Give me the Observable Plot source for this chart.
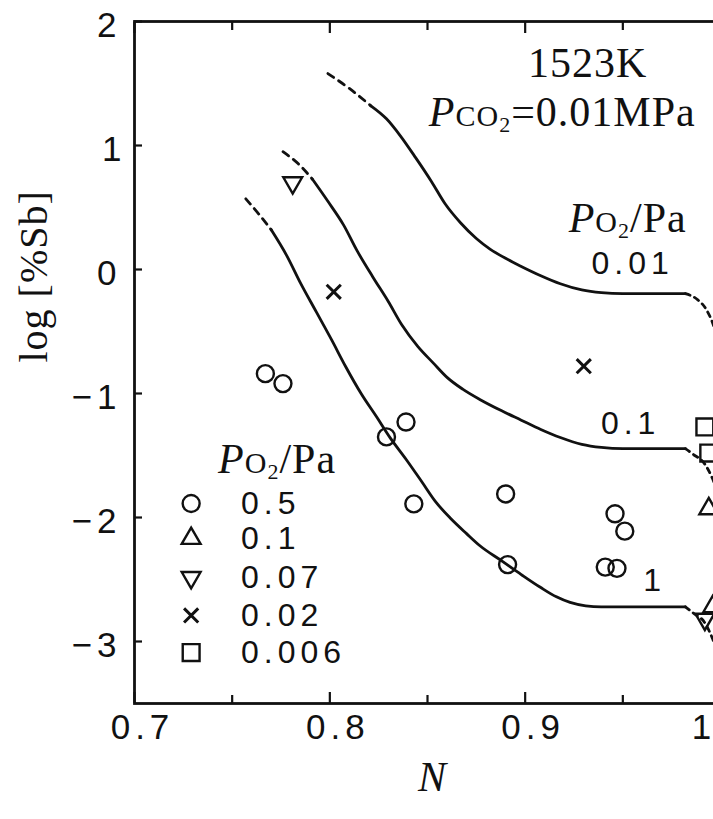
<!DOCTYPE html>
<html><head><meta charset="utf-8">
<script src="https://cdn.jsdelivr.net/npm/d3@7"></script>
<script src="https://cdn.jsdelivr.net/npm/@observablehq/plot@0.6"></script>
<style>
body{margin:0;background:#fff;}
#chart svg text{letter-spacing:5px;}
#chart svg g[font-family*="Serif"] text{letter-spacing:1px;}
#chart svg text.nospace{letter-spacing:0;}
</style>
</head><body><div id="chart"></div>
<script>
// ---- axis ticks ----
const xTicks = [0.7, 0.8, 0.9];
const xEndTick = [1.0];
const xMinorTicks = [0.75, 0.85, 0.95];
const yTicks = [-3, -2, -1, 0, 1, 2];

// ---- model curves: [N, log %Sb] ----
const c001DashL = [[0.799,1.58],[0.810,1.46],[0.821,1.32]];
const c001Solid = [[0.821,1.32],[0.829,1.215],[0.836,1.08],[0.844,0.90],[0.852,0.71],[0.859,0.53],[0.867,0.375],[0.875,0.25],[0.882,0.165],[0.890,0.090],[0.898,0.025],[0.908,-0.050],[0.918,-0.115],[0.929,-0.165],[0.939,-0.187],[0.950,-0.195],[0.982,-0.195]];
const c001DashR = [[0.982,-0.195],[0.988,-0.24],[0.993,-0.33],[0.997,-0.48],[1.000,-0.68]];

const c01DashL = [[0.776,0.95],[0.784,0.85],[0.791,0.73]];
const c01Solid = [[0.791,0.73],[0.799,0.55],[0.807,0.36],[0.814,0.15],[0.822,-0.06],[0.830,-0.26],[0.837,-0.45],[0.845,-0.62],[0.853,-0.755],[0.860,-0.87],[0.868,-0.965],[0.877,-1.05],[0.888,-1.14],[0.898,-1.215],[0.908,-1.29],[0.918,-1.355],[0.929,-1.41],[0.939,-1.435],[0.950,-1.445],[0.982,-1.445]];
const c01DashR = [[0.982,-1.445],[0.986,-1.49],[0.992,-1.57],[0.996,-1.69],[1.000,-1.87]];

const c1DashL = [[0.757,0.57],[0.764,0.44],[0.770,0.32]];
const c1Solid = [[0.770,0.32],[0.778,0.11],[0.785,-0.11],[0.793,-0.34],[0.801,-0.57],[0.808,-0.78],[0.816,-1.00],[0.824,-1.19],[0.831,-1.36],[0.839,-1.53],[0.847,-1.71],[0.854,-1.87],[0.862,-2.01],[0.870,-2.13],[0.877,-2.23],[0.888,-2.35],[0.898,-2.46],[0.908,-2.565],[0.916,-2.64],[0.923,-2.685],[0.931,-2.712],[0.939,-2.72],[0.982,-2.72]];
const c1DashR = [[0.982,-2.72],[0.986,-2.77],[0.992,-2.85],[0.996,-2.98],[1.000,-3.16]];

const curveLabels = ["0.01", "0.1", "1"];
const curveLabelN = [0.955, 0.954, 0.965];
const curveLabelV = [0.05, -1.24, -2.51];

// ---- measured points (by PO2/Pa) ----
const legendLabels = ["0.5", "0.1", "0.07", "0.02", "0.006"];
const circleN = [0.767,0.776,0.829,0.839,0.843,0.890,0.891,0.946,0.951,0.941,0.947];
const circleV = [-0.84,-0.92,-1.35,-1.23,-1.89,-1.81,-2.38,-1.97,-2.11,-2.40,-2.41];
const triUpN = [0.994, 0.996];
const triUpV = [-1.93, -2.72];
const triDownN = [0.781, 0.992];
const triDownV = [0.70, -2.82];
const crossN = [0.802, 0.930];
const crossV = [-0.18, -0.78];
const squareN = [0.992, 0.994];
const squareV = [-1.27, -1.48];

// ---- layout (legend placement in data units) ----
const legendSymN = 0.729, legendTextN = 0.7545;
const legendRowV = [-1.887, -2.169, -2.484, -2.790, -3.089];
const legendTitle = {N: 0.773, v: -1.53};
const noteTemp = {N: 0.932, v: 1.66, text: "1523K"};
const notePco2 = {N: 0.919, v: 1.266, text: "PCO2=0.01MPa"};
const notePo2 = {N: 0.9525, v: 0.41, text: "PO2/Pa"};

const SERIF = "Liberation Serif";
const SANS = "Liberation Sans";
const INK = "#111";

function rows(arr, curve, seg) { return arr.map(([N, v]) => ({N, v, z: curve + seg})); }
const solidRows = [...rows(c001Solid,"0.01","s"), ...rows(c01Solid,"0.1","s"), ...rows(c1Solid,"1","s")];
const dashLRows = [...rows(c001DashL,"0.01","l"), ...rows(c01DashL,"0.1","l"), ...rows(c1DashL,"1","l")];
const dashRRows = [...rows(c001DashR,"0.01","r"), ...rows(c01DashR,"0.1","r"), ...rows(c1DashR,"1","r")];

const series = [
  {N: circleN, V: circleV, symbol: "circle", rotate: 0, r: 8.5},
  {N: triUpN, V: triUpV, symbol: "triangle", rotate: 0, r: 7},
  {N: triDownN, V: triDownV, symbol: "triangle", rotate: 180, r: 7},
  {N: crossN, V: crossV, symbol: "times", rotate: 0, r: 6.5},
  {N: squareN, V: squareV, symbol: "square", rotate: 0, r: 9.5}
];

const tickOnly = {strokeWidth: 2.2, tickFormat: () => "", label: null};
const marks = [
  Plot.frame({stroke: INK, strokeWidth: 2.8}),
  Plot.axisX({anchor: "bottom", ticks: [...xTicks, ...xEndTick], tickSize: -11, ...tickOnly}),
  Plot.axisX({anchor: "bottom", ticks: xMinorTicks, tickSize: -8, ...tickOnly}),
  Plot.axisX({anchor: "top", ticks: [...xTicks, ...xEndTick], tickSize: -11, ...tickOnly}),
  Plot.axisX({anchor: "top", ticks: xMinorTicks, tickSize: -8, ...tickOnly}),
  Plot.axisX({anchor: "bottom", ticks: xTicks, tickSize: 0, tickPadding: 11, dx: 8, fontSize: 35, fill: INK,
    tickFormat: d => d3.format(".1f")(d), label: null}),
  Plot.axisX({anchor: "bottom", ticks: xEndTick, tickSize: 0, tickPadding: 11, dx: -19, fontSize: 35, fill: INK,
    tickFormat: d => String(d), label: null}),
  Plot.axisY({anchor: "left", ticks: yTicks, tickSize: -8, ...tickOnly}),
  Plot.axisY({anchor: "left", ticks: yTicks, tickSize: 0, tickPadding: 13, dy: 4, fontSize: 35, fill: INK,
    tickFormat: d => d < 0 ? "\u2212" + Math.abs(d) : String(d), label: null}),
  Plot.line(solidRows, {x: "N", y: "v", z: "z", curve: "monotone-x", stroke: INK, strokeWidth: 2.8}),
  Plot.line(dashLRows, {x: "N", y: "v", z: "z", curve: "monotone-x", stroke: INK, strokeWidth: 2.8, strokeDasharray: "7,6"}),
  Plot.line(dashRRows, {x: "N", y: "v", z: "z", curve: "monotone-x", stroke: INK, strokeWidth: 2.8, strokeDasharray: "5,5"}),
  Plot.text(curveLabels, {x: (d, i) => curveLabelN[i], y: (d, i) => curveLabelV[i], text: d => d, fontFamily: SANS, fontSize: 32, fill: INK}),
  Plot.text([noteTemp, notePco2, notePo2], {x: "N", y: "v", text: "text", fontFamily: SERIF, fontSize: 42, fill: INK}),
  Plot.text([legendTitle], {x: "N", y: "v", text: () => "PO2/Pa", fontFamily: SERIF, fontSize: 42, fill: INK}),
  Plot.text(legendLabels, {x: () => legendTextN, y: (d, i) => legendRowV[i], text: d => d, textAnchor: "start", fontFamily: SANS, fontSize: 32, fill: INK}),
  Plot.text(["log [%Sb]"], {frameAnchor: "left", dx: -100, rotate: -90, text: d => d, fontFamily: SERIF, fontSize: 40, fill: INK}),
  Plot.text(["N"], {frameAnchor: "bottom", dx: 5, dy: 87, text: d => d, fontFamily: SERIF, fontStyle: "italic", fontSize: 42, fill: INK})
];

series.forEach((s, k) => {
  const pts = s.N.map((N, i) => ({N, v: s.V[i]}));
  const sw = s.symbol === "times" ? 3 : 2.4;
  marks.push(Plot.dot(pts, {x: "N", y: "v", symbol: s.symbol, rotate: s.rotate, r: s.r, stroke: INK, fill: "none", strokeWidth: sw}));
  marks.push(Plot.dot([legendLabels[k]], {x: () => legendSymN, y: () => legendRowV[k], symbol: s.symbol, rotate: s.rotate, r: s.r, stroke: INK, fill: "none", strokeWidth: sw}));
});

const chart = Plot.plot({
  width: 713,
  height: 819,
  marginLeft: 134,
  marginRight: -7,
  marginTop: 21,
  marginBottom: 116,
  x: {domain: [0.7, 1.0]},
  y: {domain: [-3.5, 2]},
  style: {fontFamily: SANS, background: "white", color: INK},
  marks
});

// rich text: italic P and subscripts
function rich(el, parts) {
  el.textContent = "";
  let prev = 0;
  for (const p of parts) {
    const ts = document.createElementNS("http://www.w3.org/2000/svg", "tspan");
    ts.textContent = p.t;
    if (p.italic) ts.setAttribute("font-style", "italic");
    if (p.size) ts.setAttribute("font-size", p.size);
    const sh = p.shift || 0;
    if (sh !== prev) ts.setAttribute("dy", sh - prev);
    prev = sh;
    el.appendChild(ts);
  }
}
d3.select(chart).selectAll("text").each(function() {
  const t = this.textContent;
  if (t === "PO2/Pa") {
    rich(this, [{t: "P", italic: true}, {t: "O", size: 30}, {t: "2", size: 22, shift: 6}, {t: "/Pa", shift: 0}]);
  } else if (t === "PCO2=0.01MPa") {
    rich(this, [{t: "P", italic: true}, {t: "CO", size: 30}, {t: "2", size: 22, shift: 6}, {t: "=0.01MPa", shift: 0}]);
  } else if (t === "1") {
    this.classList.add("nospace");
  }
});

document.getElementById("chart").appendChild(chart);
</script>
</body></html>
